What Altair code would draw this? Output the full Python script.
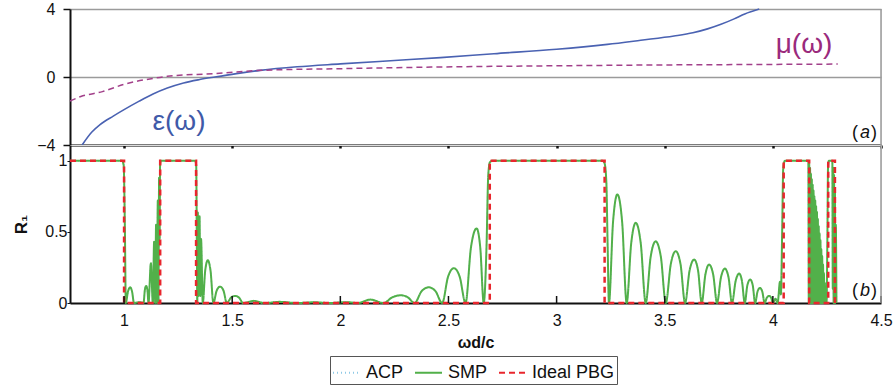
import altair as alt
import pandas as pd

# ---------------- data ----------------
X_DOMAIN = [0.75, 4.5]
X_TICKS = [1, 1.5, 2, 2.5, 3, 3.5, 4, 4.5]
TOP_Y_TICKS = [-4, 0, 4]
BOTTOM_Y_TICKS = [0, 0.5, 1]

EPS_W = [0.806, 0.85, 0.889, 0.95, 1.0, 1.07, 1.134, 1.2, 1.275, 1.35, 1.42,
         1.52, 1.63, 1.8, 2.0, 2.25, 2.463, 2.71, 3.0, 3.235, 3.389, 3.543,
         3.63, 3.698, 3.76, 3.821, 3.87, 3.937]
EPS_V = [-4.0, -3.25, -2.8, -2.3, -1.92, -1.42, -1.0, -0.65, -0.35, -0.15, 0.0,
         0.2, 0.39, 0.6, 0.77, 0.97, 1.14, 1.37, 1.63, 1.92, 2.16, 2.41,
         2.6, 2.83, 3.1, 3.42, 3.71, 4.0]

MU_W = [0.75, 0.8, 0.9, 1.0, 1.134, 1.2, 1.42, 1.63, 2.0, 2.463, 3.0, 3.5, 4.0, 4.3]
MU_V = [-1.41, -1.15, -0.86, -0.43, -0.08, 0.04, 0.2, 0.39, 0.49, 0.59, 0.66, 0.71, 0.74, 0.76]

SMP_POINTS = [
    (0.75, 1), (0.99, 1), (0.998, 0.97), (1.004, 0.5), (1.008, 0),
    (1.018, 0.08), (1.028, 0.11), (1.037, 0.08), (1.046, 0),
    (1.07, 0.006), (1.09, 0), (1.096, 0.09), (1.102, 0.12), (1.108, 0.09),
    (1.113, 0), (1.124, 0.28), (1.133, 0), (1.139, 0.43), (1.144, 0),
    (1.148, 0.55), (1.152, 0), (1.156, 0.72), (1.159, 0), (1.162, 0.88),
    (1.1645, 0.45), (1.1665, 0.97), (1.17, 1), (1.328, 1), (1.3335, 0.97),
    (1.3365, 0.4), (1.3385, 0), (1.341, 0.635), (1.3445, 0.05), (1.349, 0.61),
    (1.3525, 0.05), (1.356, 0.45), (1.364, 0),
    (1.375, 0.225), (1.387, 0.3), (1.400, 0.225), (1.413, 0),
    (1.428, 0.086), (1.444, 0.115), (1.46, 0.086), (1.475, 0),
    (1.494, 0.037), (1.514, 0.05), (1.532, 0.037), (1.55, 0),
    (1.60, 0.015), (1.65, 0), (1.72, 0.008), (1.80, 0), (1.88, 0.005),
    (1.95, 0), (2.03, 0.006), (2.08, 0), (2.139, 0.024), (2.20, 0),
    (2.24, 0.04), (2.281, 0.054), (2.312, 0.04), (2.343, 0),
    (2.376, 0.083), (2.409, 0.11), (2.44, 0.083), (2.471, 0),
    (2.498, 0.184), (2.525, 0.245), (2.552, 0.184), (2.579, 0),
    (2.604, 0.39), (2.63, 0.524), (2.647, 0.39), (2.663, 0),
    (2.676, 0.4), (2.684, 0.9), (2.692, 0.99),
    (2.705, 1), (3.212, 1), (3.222, 0.98), (3.23, 0.85), (3.236, 0.4),
    (3.242, 0), (3.261, 0.57), (3.281, 0.763), (3.303, 0.57), (3.324, 0),
    (3.345, 0.42), (3.366, 0.563), (3.389, 0.42), (3.412, 0),
    (3.435, 0.325), (3.458, 0.433), (3.482, 0.325), (3.505, 0),
    (3.528, 0.273), (3.551, 0.364), (3.573, 0.273), (3.594, 0),
    (3.615, 0.229), (3.636, 0.305), (3.654, 0.229), (3.671, 0),
    (3.688, 0.2), (3.705, 0.27), (3.724, 0.2), (3.742, 0),
    (3.76, 0.18), (3.778, 0.242), (3.795, 0.18), (3.811, 0),
    (3.828, 0.155), (3.844, 0.207), (3.857, 0.155), (3.870, 0),
    (3.882, 0.124), (3.895, 0.165), (3.907, 0.124), (3.918, 0),
    (3.929, 0.08), (3.940, 0.106), (3.951, 0.08), (3.962, 0),
    (3.972, 0.037), (3.983, 0.05), (3.992, 0.037), (4.0, 0),
    (4.012, 0.03), (4.022, 0),
    (4.033, 0.15), (4.037, 0.06), (4.043, 0.5), (4.048, 0.95), (4.056, 1),
    (4.164, 1), (4.166, 0), (4.168, 0.98), (4.170, 0), (4.172, 0.95),
    (4.174, 0), (4.176, 0.91), (4.178, 0), (4.180, 0.87), (4.182, 0),
    (4.184, 0.83), (4.186, 0), (4.188, 0.79), (4.190, 0), (4.192, 0.75),
    (4.194, 0), (4.196, 0.72), (4.198, 0), (4.200, 0.68), (4.202, 0),
    (4.204, 0.64), (4.206, 0), (4.208, 0.59), (4.210, 0), (4.212, 0.54),
    (4.214, 0), (4.216, 0.49), (4.218, 0), (4.220, 0.44), (4.222, 0),
    (4.224, 0.38), (4.226, 0), (4.228, 0.33), (4.230, 0), (4.232, 0.27),
    (4.234, 0), (4.236, 0.21), (4.238, 0), (4.240, 0.14), (4.242, 0),
    (4.244, 0.07), (4.248, 0), (4.252, 0.45), (4.255, 0.95), (4.259, 1),
    (4.275, 1), (4.277, 0.1), (4.279, 0.95), (4.281, 0), (4.283, 0.9),
    (4.285, 0), (4.287, 0.8), (4.289, 0), (4.291, 0.55), (4.294, 0),
]

PBG_EDGES = [0.75, 1.0, 1.167, 1.333, 2.691, 3.222, 4.05, 4.168, 4.256, 4.287, 4.30]
PBG_R = [1, 0, 1, 0, 1, 0, 1, 0, 1, 0, 0]

SERIES = ["ACP", "SMP", "Ideal PBG"]

# ---------------- styles ----------------
SERIES_COLORS = ["#8ec9e6", "#52b04a", "#e8262d"]
SERIES_DASH = [[1, 3], [1, 0], [6, 4]]
FONT = "Liberation Sans"
INK = "#111111"
GRAY = "#9b9b9b"
W = 811
H_TOP = 136
H_BOT = 158

xs = alt.Scale(domain=X_DOMAIN, nice=False, zero=False)
one = pd.DataFrame({"a": [0]})

# ---------------- top panel ----------------
eps_df = pd.DataFrame({"w": EPS_W, "v": EPS_V})
mu_df = pd.DataFrame({"w": MU_W, "v": MU_V})

x_top = alt.X("w:Q", scale=xs, axis=alt.Axis(
    values=X_TICKS, labels=False, title=None, grid=False,
    domainColor=INK, domainWidth=2, tickColor=INK, tickSize=3, tickWidth=2.5))
y_top = alt.Y("v:Q", scale=alt.Scale(domain=[-4, 4], nice=False), axis=alt.Axis(
    values=TOP_Y_TICKS, format="~g", title=None, grid=True, gridColor=GRAY,
    gridWidth=1.5, domainColor=INK, domainWidth=2, tickColor=INK, tickSize=7,
    tickWidth=1.5, labelPadding=8, labelFontSize=16, labelFont=FONT,
    labelColor=INK))

eps_line = alt.Chart(eps_df).mark_line(
    color="#4a62b2", strokeWidth=1.6, interpolate="monotone").encode(x=x_top, y=y_top)
mu_line = alt.Chart(mu_df).mark_line(
    color="#a2408a", strokeWidth=1.5, strokeDash=[6, 4],
    interpolate="monotone").encode(x=x_top, y=y_top)

top_border = alt.Chart(one).mark_rule(color=GRAY, strokeWidth=1.5).encode(
    x=alt.value(W), y=alt.value(0), y2=alt.value(H_TOP))

eps_label = alt.Chart(one).mark_text(
    text="ε(ω)", font=FONT, fontSize=28, color="#3f5aa8",
    align="center", baseline="middle").encode(x=alt.value(109), y=alt.value(113))
mu_label = alt.Chart(one).mark_text(
    text="μ(ω)", font=FONT, fontSize=28, color="#9a2a7c",
    align="center", baseline="middle").encode(x=alt.value(734), y=alt.value(36))


def panel_tag(letter, ymid):
    lp = alt.Chart(one).mark_text(text="(", font=FONT, fontSize=18, color=INK,
                                  align="left", baseline="middle").encode(
        x=alt.value(782), y=alt.value(ymid))
    lt = alt.Chart(one).mark_text(text=letter, font=FONT, fontSize=18, color=INK,
                                  fontStyle="italic", align="center",
                                  baseline="middle").encode(
        x=alt.value(795), y=alt.value(ymid))
    rp = alt.Chart(one).mark_text(text=")", font=FONT, fontSize=18, color=INK,
                                  align="right", baseline="middle").encode(
        x=alt.value(807), y=alt.value(ymid))
    return [lp, lt, rp]


top = alt.layer(eps_line, mu_line, top_border, eps_label, mu_label,
                *panel_tag("a", 124)).properties(width=W, height=H_TOP)

# ---------------- bottom panel ----------------
smp_base = pd.DataFrame(SMP_POINTS, columns=["w", "r"])
acp_df = smp_base.assign(series="ACP")
smp_df = smp_base.assign(series="SMP")
pbg_df = pd.DataFrame({"w": PBG_EDGES, "r": PBG_R, "series": "Ideal PBG"})

leg = alt.Legend(orient="none", legendX=260, legendY=347, direction="horizontal",
                 title=None, symbolType="stroke", symbolSize=729,
                 symbolStrokeWidth=2, labelFontSize=18, labelFont=FONT,
                 labelColor=INK, labelOffset=5, columnPadding=7,
                 strokeColor="#555555", fillColor="white", padding=2)

color = alt.Color("series:N", scale=alt.Scale(domain=SERIES, range=SERIES_COLORS),
                  legend=leg)
dash = alt.StrokeDash("series:N", scale=alt.Scale(domain=SERIES, range=SERIES_DASH),
                      legend=leg)

x_bot = alt.X("w:Q", scale=xs, axis=alt.Axis(
    values=X_TICKS, format="~g", title="ωd/c", ticks=False, grid=False,
    labelFlush=False, domainColor=INK, domainWidth=2, labelFontSize=16,
    labelPadding=9, labelFont=FONT, labelColor=INK, titleFont=FONT,
    titleFontSize=16, titleFontWeight="bold", titleColor=INK, titlePadding=6))
y_bot = alt.Y("r:Q", scale=alt.Scale(domain=[0, 1.11], nice=False), axis=alt.Axis(
    values=BOTTOM_Y_TICKS, format="~g", title="R₁", grid=False,
    domainColor=INK, domainWidth=2, tickColor=INK, tickSize=3,
    labelPadding=0, labelFontSize=16, labelFont=FONT, labelColor=INK,
    titleFont=FONT, titleFontSize=17, titleFontWeight="bold", titleColor=INK,
    titlePadding=14))

acp_line = alt.Chart(acp_df).mark_line(strokeWidth=1.5, interpolate="monotone").encode(
    x=x_bot, y=y_bot, color=color, strokeDash=dash)
smp_line = alt.Chart(smp_df).mark_line(strokeWidth=2, interpolate="monotone").encode(
    x=x_bot, y=y_bot, color=color, strokeDash=dash)
pbg_line = alt.Chart(pbg_df).mark_line(strokeWidth=2.5, interpolate="step-after").encode(
    x=x_bot, y=y_bot, color=color, strokeDash=dash)

tick_df = pd.DataFrame({"w": X_TICKS})
inner_ticks = alt.Chart(tick_df).mark_rule(color=INK, strokeWidth=1.5).encode(
    x=alt.X("w:Q", scale=xs), y=alt.value(H_BOT - 7), y2=alt.value(H_BOT))
bot_border = alt.Chart(one).mark_rule(color=GRAY, strokeWidth=1.5).encode(
    x=alt.value(W), y=alt.value(0), y2=alt.value(H_BOT))

bottom = alt.layer(acp_line, smp_line, pbg_line, inner_ticks, bot_border,
                   *panel_tag("b", 146)).properties(width=W, height=H_BOT)

chart = alt.vconcat(top, bottom, spacing=0, bounds="flush").properties(
    padding={"left": 12, "top": 0, "right": 2, "bottom": 4}
).configure_view(stroke=None).configure(background="white")

chart.save("out.html", embed_options={"renderer": "svg", "actions": False})
